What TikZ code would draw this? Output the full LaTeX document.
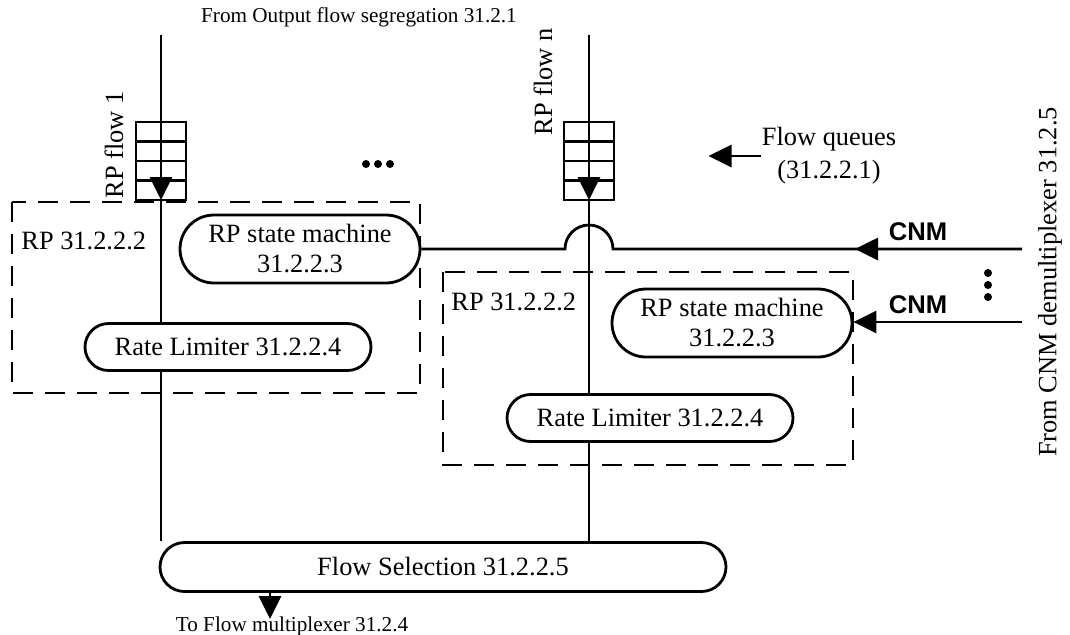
\documentclass[tikz,border=0pt]{standalone}
\usepackage{fontspec}
\setmainfont{Liberation Serif}
\setsansfont{Liberation Sans}
\usetikzlibrary{arrows.meta,shapes.misc,backgrounds}

\begin{document}
\begin{tikzpicture}[x=0.5pt,y=-0.5pt,line width=1.4pt,
  >={Triangle[length=11.5pt,width=11pt]},
  wire/.style={line width=1.4pt},
  blk/.style={draw,rounded rectangle,fill=white,inner sep=0pt,font=\fontsize{13.2}{15}\selectfont},
  rpbox/.style={draw,dash pattern=on 10pt off 6pt},
  lbl/.style={inner sep=0pt,font=\fontsize{13.2}{16.5}\selectfont},
  sml/.style={inner sep=0pt,font=\fontsize{10.6}{13}\selectfont},
  cnm/.style={inner sep=0pt,font=\sffamily\bfseries\fontsize{12.8}{15}\selectfont}]
\useasboundingbox (0,0) rectangle (1070,634);
\node[blk,align=center,minimum width=120pt,minimum height=34pt] (sm1) at (300,249) {RP state machine\\31.2.2.3};
\node[blk,minimum width=143pt,minimum height=23.5pt] (rl1) at (228,347) {Rate Limiter 31.2.2.4};
\node[blk,align=center,minimum width=120pt,minimum height=34pt] (sm2) at (732,323) {RP state machine\\31.2.2.3};
\node[blk,minimum width=143pt,minimum height=23.5pt] (rl2) at (650,418) {Rate Limiter 31.2.2.4};
\node[blk,minimum width=283pt,minimum height=24.5pt] (fs) at (443,567) {Flow Selection 31.2.2.5};
\draw[rpbox] (12,202) rectangle (420,393);
\draw[rpbox] (443,272) rectangle (853,465);
\node[lbl,anchor=west] (rp1) at (20,241) {RP 31.2.2.2};
\node[lbl,anchor=west] (rp2) at (450,302) {RP 31.2.2.2};
\coordinate (top1) at (161,35);
\coordinate (topn) at (589,35);
\coordinate (q1) at (161,200);
\coordinate (qn) at (589,200);
\foreach \x in {161,589} {
  \draw (\x-25,122) rectangle (\x+25,200);
  \foreach \y in {141.5,161,180.5}
    \draw (\x-25,\y) -- (\x+25,\y);
}
\draw[->] (top1) -- (q1);
\draw[->] (topn) -- (qn);
\begin{scope}[on background layer]
\draw[wire] (q1) -- (q1 |- fs.north);
\draw[wire] (qn) -- (qn |- fs.north);
\end{scope}
\node[lbl,rotate=90] (f1) at (114,145) {RP flow 1};
\node[lbl,rotate=90] (fn) at (543,82) {RP flow n};
\node[sml] (src) at (359,17) {From Output flow segregation 31.2.1};
\foreach \x in {366,378,390}
  \fill (\x,164) circle (2pt);
\node[lbl,align=center] (fq) at (829,156) {Flow queues\\(31.2.2.1)};
\draw[->] (fq.west) -- ++(-52,0);
\coordinate (in1) at (1022,249);
\coordinate (tip1) at (855,249);
\coordinate (in2) at (1022,322);
\draw (sm1.east) -- (565,249) arc[start angle=180,end angle=360,radius=24] -- (in1);
\draw[->] (in1) -- (tip1);
\draw[->] (in2) -- (in2 -| sm2.east);
\node[cnm] (cnm1) at (918,232) {CNM};
\node[cnm] (cnm2) at (918,305) {CNM};
\foreach \y in {273,285,297}
  \fill (988,\y) circle (2pt);
\node[lbl,rotate=90] (side) at (1050,282) {From CNM demultiplexer 31.2.5};
\coordinate (outtip) at (270,619);
\draw[->] (outtip |- fs.south) -- (outtip);
\node[sml,anchor=base] (dst) at (292,631) {To Flow multiplexer 31.2.4};
\end{tikzpicture}
\end{document}
